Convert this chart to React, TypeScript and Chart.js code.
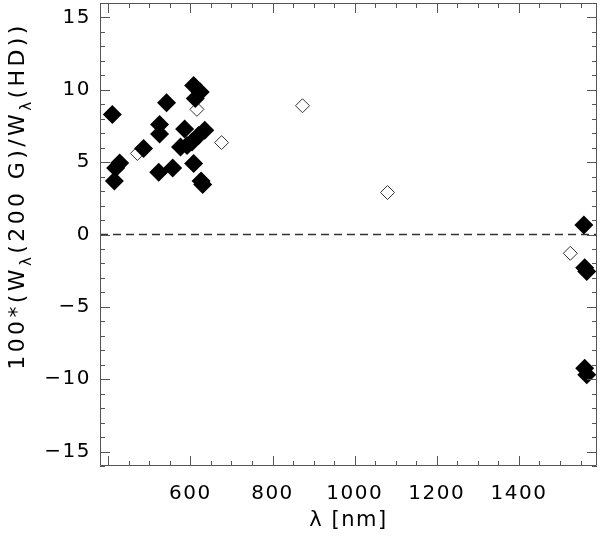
import React, { useEffect, useRef } from 'react';
import { Chart, registerables } from 'chart.js';

Chart.register(...registerables);

// Filled diamonds
const filledLambda = [410, 415, 418, 428, 486, 525, 525, 523, 542, 557, 576, 586, 592, 604, 608, 624, 612, 620, 635, 608, 626, 630, 1558, 1560, 1565, 1560, 1565];
const filledRatio = [8.3, 3.7, 4.6, 4.95, 5.95, 7.6, 6.95, 4.3, 9.1, 4.6, 6.05, 7.3, 6.15, 6.4, 10.3, 9.85, 9.4, 6.85, 7.2, 4.9, 3.7, 3.45, 0.65, -2.3, -2.55, -9.25, -9.7];

// Open diamonds
const openLambda = [471, 616, 676, 873, 1080, 1525];
const openRatio = [5.6, 8.65, 6.35, 8.9, 2.9, -1.3];

const xTickLabels = [600, 800, 1000, 1200, 1400];
const yTickLabels = [-15, -10, -5, 0, 5, 10, 15];
const xRange = [380, 1590];
const yRange = [-16, 16];
const zeroLevel = [0, 0];

const FONT = "'DejaVu Sans', sans-serif";

const noPad = (s: any) => {
  s.paddingTop = 0;
  s.paddingBottom = 0;
  s.paddingLeft = 0;
  s.paddingRight = 0;
};

const idlFrame = {
  id: 'idlFrame',
  beforeDraw(chart: any) {
    chart.ctx.letterSpacing = '1.5px';
  },
  afterDatasetsDraw(chart: any) {
    const { ctx, chartArea: a, scales } = chart;
    const x = scales.x;
    const y = scales.y;
    ctx.save();
    ctx.letterSpacing = '0px';
    ctx.strokeStyle = '#555';
    ctx.lineWidth = 1;
    ctx.setLineDash([]);
    ctx.beginPath();
    ctx.rect(a.left + 0.5, a.top + 0.5, a.right - a.left - 1, a.bottom - a.top - 1);
    for (let v = Math.ceil(x.min / 50) * 50; v <= x.max; v += 50) {
      const px = Math.round(x.getPixelForValue(v)) + 0.5;
      const len = v % 200 === 0 ? 10 : 5;
      ctx.moveTo(px, a.bottom);
      ctx.lineTo(px, a.bottom - len);
      ctx.moveTo(px, a.top);
      ctx.lineTo(px, a.top + len);
    }
    for (let v = Math.ceil(y.min); v <= y.max; v += 1) {
      const py = Math.round(y.getPixelForValue(v)) + 0.5;
      const len = v % 5 === 0 ? 10 : 5;
      ctx.moveTo(a.left, py);
      ctx.lineTo(a.left + len, py);
      ctx.moveTo(a.right, py);
      ctx.lineTo(a.right - len, py);
    }
    ctx.stroke();
    ctx.restore();
  },
  afterDraw(chart: any) {
    const { ctx } = chart;
    const segs: [string, boolean][] = [
      ['100*(W', false],
      ['λ', true],
      ['(200 G)/W', false],
      ['λ', true],
      ['(HD))', false],
    ];
    ctx.save();
    ctx.letterSpacing = '3.4px';
    ctx.fillStyle = '#000';
    ctx.textBaseline = 'alphabetic';
    ctx.textAlign = 'left';
    const mainFont = `22px ${FONT}`;
    const subFont = `15px ${FONT}`;
    let total = 0;
    for (const [t, sub] of segs) {
      ctx.font = sub ? subFont : mainFont;
      total += ctx.measureText(t).width;
    }
    ctx.translate(24, 196);
    ctx.rotate(-Math.PI / 2);
    let cx = -total / 2;
    for (const [t, sub] of segs) {
      ctx.font = sub ? subFont : mainFont;
      ctx.fillText(t, cx, sub ? 7 : 0);
      cx += ctx.measureText(t).width;
    }
    ctx.restore();
  },
};

export default function App() {
  const ref = useRef<HTMLCanvasElement>(null);
  useEffect(() => {
    if (!ref.current) return;
    const chart = new Chart(ref.current, {
      type: 'scatter',
      data: {
        datasets: [
          {
            label: 'filled',
            data: filledLambda.map((v, i) => ({ x: v, y: filledRatio[i] })),
            pointStyle: 'rectRot',
            pointRadius: 9.5,
            backgroundColor: '#000',
            borderColor: '#000',
            borderWidth: 0,
            order: 0,
          },
          {
            label: 'open',
            data: openLambda.map((v, i) => ({ x: v, y: openRatio[i] })),
            pointStyle: 'rectRot',
            pointRadius: 7,
            backgroundColor: '#fff',
            borderColor: '#333',
            borderWidth: 1,
            order: 1,
          },
          {
            type: 'line',
            label: 'zero',
            data: xRange.map((v, i) => ({ x: v, y: zeroLevel[i] })),
            borderColor: '#333',
            borderWidth: 1.5,
            borderDash: [8, 5],
            pointRadius: 0,
            showLine: true,
            fill: false,
            order: 2,
          } as any,
        ],
      },
      options: {
        responsive: false,
        animation: false,
        layout: { autoPadding: false, padding: { top: 3, right: 3, left: 0, bottom: 0 } },
        plugins: { legend: { display: false }, tooltip: { enabled: false } },
        scales: {
          x: {
            type: 'linear',
            min: xRange[0],
            max: xRange[1],
            afterBuildTicks: (s: any) => {
              s.ticks = xTickLabels.map((v) => ({ value: v }));
            },
            afterFit: (s: any) => {
              s.height = 71;
              noPad(s);
            },
            grid: { display: false, drawTicks: false },
            border: { display: false },
            ticks: {
              autoSkip: false,
              maxRotation: 0,
              padding: 16,
              color: '#000',
              font: { family: FONT, size: 20 },
              callback: (v: any) => String(v),
            },
            title: {
              display: true,
              text: 'λ [nm]',
              color: '#000',
              font: { family: FONT, size: 21 },
              padding: { top: 0, bottom: 4 },
            },
          },
          y: {
            type: 'linear',
            min: yRange[0],
            max: yRange[1],
            afterBuildTicks: (s: any) => {
              s.ticks = yTickLabels.map((v) => ({ value: v }));
            },
            afterFit: (s: any) => {
              s.width = 100;
              noPad(s);
            },
            grid: { display: false, drawTicks: false },
            border: { display: false },
            ticks: {
              autoSkip: false,
              padding: 9,
              color: '#000',
              font: { family: FONT, size: 20 },
              callback: (v: any) => (Number(v) < 0 ? '\u2212' + Math.abs(Number(v)) : String(v)),
            },
          },
        },
      },
      plugins: [idlFrame],
    });
    return () => chart.destroy();
  }, []);
  return (
    <div style={{ position: 'absolute', left: 0, top: 0, width: 600, height: 537, background: '#fff' }}>
      <canvas ref={ref} width={600} height={537} style={{ display: 'block' }} />
    </div>
  );
}
